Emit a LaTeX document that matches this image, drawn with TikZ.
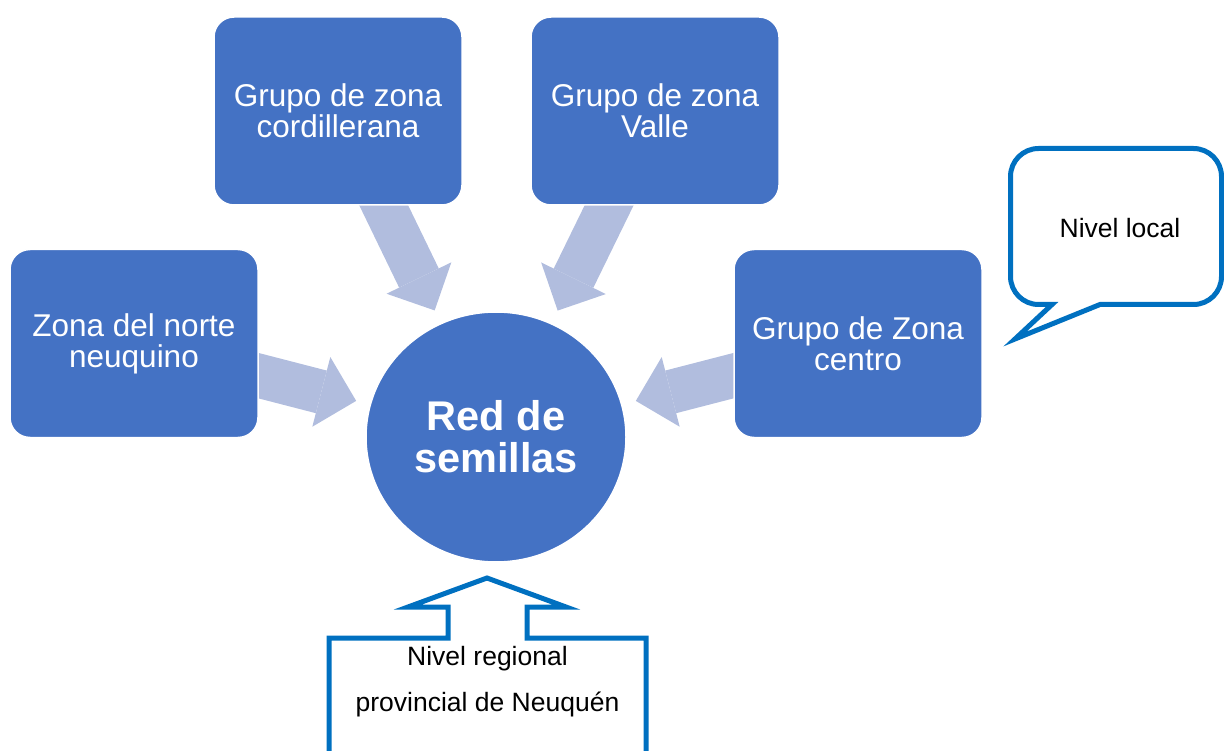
\documentclass[tikz,border=0pt]{standalone}
\usepackage{fontspec}
\setmainfont{Liberation Sans}
\usetikzlibrary{arrows.meta, backgrounds, shapes.geometric}

\begin{document}
\begin{tikzpicture}
			[x=1pt,y=-1pt,line join=miter,
			%Styles
			zone box/.style={rectangle,rounded corners=20pt,fill=boxblue,draw=white,line width=1.5pt,
				minimum width=248pt,minimum height=188pt,inner sep=0pt,align=center,text=white,
				font=\fontsize{31.5}{31}\selectfont},
			hub/.style={ellipse,fill=boxblue,draw=white,line width=1.5pt,minimum width=260pt,
				minimum height=250pt,inner sep=0pt,align=center,text=white,
				font=\fontsize{41.5}{42}\bfseries},
			flow/.style={line width=44pt,color=flowcolor,
				-{Triangle[width=72pt,length=36pt,line width=0pt]},shorten >=14pt,shorten <=-12pt},
			callout line/.style={draw=calloutcolor,line width=5pt},
			callout text/.style={align=center,font=\fontsize{26.5}{46}\selectfont}
			]
			
			%Colors
			\definecolor{boxblue}{RGB}{68,114,196}
			\definecolor{flowcolor}{RGB}{177,189,222}
			\definecolor{calloutcolor}{RGB}{0,112,192}
			
			%The graphic
			\useasboundingbox (0,0) rectangle (1224,751);
			
			\node[zone box] (cord) at (338,111) {Grupo de zona\\cordillerana};
			\node[zone box] (valle) at (655,111) {Grupo de zona\\Valle};
			\node[zone box] (norte) at (134,343.5) {Zona del norte\\neuquino};
			\node[zone box] (centro) at (858,343.5) {Grupo de Zona\\centro};
			\node[hub] (red) at (496,437) {Red de\\semillas};
			
			\begin{pgfonlayer}{background}
				\draw[flow] (cord) -- (red);
				\draw[flow] (valle) -- (red);
				\draw[flow] (norte) -- (red);
				\draw[flow] (centro) -- (red);
			\end{pgfonlayer}
			
			%Callouts
			\draw[callout line] (1052,304.5) -- (1015,339) -- (1100,304.5)
				[rounded corners=28pt] -- (1221.5,304.5) -- (1221.5,148.5) -- (1010.5,148.5)
				-- (1010.5,304.5) [sharp corners] -- cycle;
			\node[callout text] (local) at (1120,228.5) {Nivel local};
			
			\draw[callout line] (329,760) -- (329,638) -- (448,638) -- (448,607) -- (408,607)
				-- (487,578) -- (566,607) -- (527,607) -- (527,638) -- (646,638) -- (646,760);
			\node[callout text] (regional) at (487.5,682) {Nivel regional\\provincial de Neuquén};
		\end{tikzpicture}
\end{document}
